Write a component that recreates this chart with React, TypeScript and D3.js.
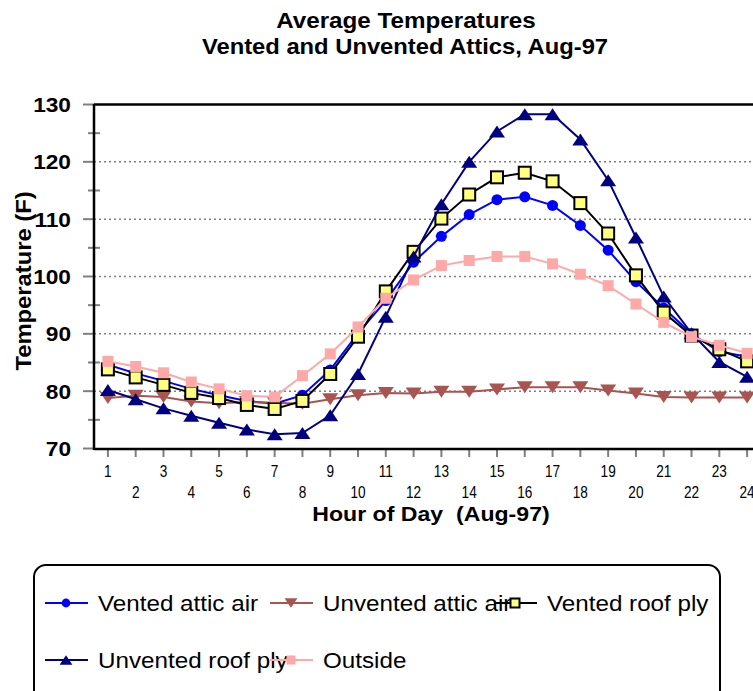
import React, { useEffect, useRef } from "react";
import * as d3 from "d3";

const hours = d3.range(1, 25);

const ventedAtticAir = [84.6, 83.1, 81.8, 80.4, 79.3, 78.3, 77.8, 79.3, 83.7, 90.1, 95.8, 102.5, 107.0, 110.8, 113.4, 113.9, 112.4, 108.9, 104.6, 99.1, 94.5, 90.0, 86.9, 86.0];
const unventedAtticAir = [78.8, 79.2, 79.0, 78.2, 77.9, 78.1, 78.0, 77.8, 78.6, 79.3, 79.7, 79.6, 79.9, 79.9, 80.3, 80.7, 80.7, 80.7, 80.1, 79.6, 79.0, 78.9, 78.9, 78.9];
const ventedRoofPly = [83.8, 82.4, 81.1, 79.7, 78.8, 77.6, 76.9, 78.3, 83.0, 89.5, 97.4, 104.3, 110.1, 114.3, 117.3, 118.1, 116.6, 112.8, 107.5, 100.2, 93.7, 89.7, 87.3, 85.2];
const unventedRoofPly = [80.2, 78.6, 77.0, 75.7, 74.5, 73.3, 72.5, 72.7, 75.8, 83.0, 93.0, 103.5, 112.6, 120.0, 125.3, 128.3, 128.3, 123.9, 116.8, 106.8, 96.5, 90.1, 85.1, 82.5];
const outside = [85.2, 84.3, 83.2, 81.6, 80.4, 79.2, 79.0, 82.7, 86.5, 91.2, 96.2, 99.4, 101.9, 102.8, 103.5, 103.5, 102.2, 100.4, 98.4, 95.2, 92.0, 89.5, 88.0, 86.6];

const yTicks = [70, 80, 90, 100, 110, 120, 130];

const series = [
  { name: "Vented attic air", values: ventedAtticAir, color: "#0000ff", marker: "circle" },
  { name: "Unvented attic air", values: unventedAtticAir, color: "#a85450", marker: "down" },
  { name: "Vented roof ply", values: ventedRoofPly, color: "#000000", marker: "square" },
  { name: "Unvented roof ply", values: unventedRoofPly, color: "#000080", marker: "up" },
  { name: "Outside", values: outside, color: "#ffa8a8", marker: "pink" },
];

const FONT = "'Liberation Sans', Arial, sans-serif";

// the original fonts render a bit wider/narrower than Arial; stretch text to match
function stretch(sel, factor) {
  sel.each(function () {
    const len = this.getComputedTextLength();
    d3.select(this).attr("textLength", len * factor).attr("lengthAdjust", "spacingAndGlyphs");
  });
  return sel;
}

function drawMarker(g, type, color, x, y, small) {
  const k = small ? 0.8 : 1;
  if (type === "circle") {
    g.append("circle").attr("cx", x).attr("cy", y).attr("r", 5.5 * k).attr("fill", color);
  } else if (type === "down") {
    const w = 8 * k, h = 12 * k;
    g.append("path")
      .attr("d", `M${x - w},${y - h / 2}L${x + w},${y - h / 2}L${x},${y + h / 2}Z`)
      .attr("fill", color);
  } else if (type === "up") {
    const w = 8 * k, h = 12 * k;
    g.append("path")
      .attr("d", `M${x - w},${y + h / 2}L${x + w},${y + h / 2}L${x},${y - h / 2}Z`)
      .attr("fill", color);
  } else if (type === "square") {
    const s = small ? 9 : 12;
    g.append("rect").attr("x", x - s / 2).attr("y", y - s / 2).attr("width", s).attr("height", s)
      .attr("fill", "#ffff80").attr("stroke", "#000").attr("stroke-width", 2);
  } else {
    const s = small ? 9 : 11;
    g.append("rect").attr("x", x - s / 2).attr("y", y - s / 2).attr("width", s).attr("height", s)
      .attr("fill", color);
  }
}

const App = () => {
  const svgRef = useRef(null);

  useEffect(() => {
    const width = 753;
    const svg = d3.select(svgRef.current);
    svg.selectAll("*").remove();

    const x = d3.scaleBand().domain(hours).range([94, 761]);
    const cx = (h) => x(h) + x.bandwidth() / 2;
    const y = d3.scaleLinear().domain([70, 130]).range([448.5, 104.5]);

    // titles
    stretch(svg.append("text").attr("x", 406).attr("y", 28).attr("text-anchor", "middle")
      .style("font", `bold 22px ${FONT}`).text("Average Temperatures"), 1.1);
    stretch(svg.append("text").attr("x", 405).attr("y", 54).attr("text-anchor", "middle")
      .style("font", `bold 22px ${FONT}`).text("Vented and Unvented Attics, Aug-97"), 1.08);

    // gridlines
    svg.append("g").selectAll("line").data(yTicks.filter(t => t > 70 && t < 130)).enter()
      .append("line")
      .attr("x1", 94).attr("x2", width).attr("y1", d => y(d)).attr("y2", d => y(d))
      .attr("stroke", "#808080").attr("stroke-width", 1.5).attr("stroke-dasharray", "2,3");

    // y ticks (major and minor)
    const minor = d3.range(75, 130, 10);
    svg.append("g").selectAll("line").data(yTicks).enter().append("line")
      .attr("x1", 83).attr("x2", 94).attr("y1", d => y(d)).attr("y2", d => y(d))
      .attr("stroke", "#808080").attr("stroke-width", 2);
    svg.append("g").selectAll("line").data(minor).enter().append("line")
      .attr("x1", 88).attr("x2", 100).attr("y1", d => y(d)).attr("y2", d => y(d))
      .attr("stroke", "#808080").attr("stroke-width", 2);
    stretch(svg.append("g").selectAll("text").data(yTicks).enter().append("text")
      .attr("x", 71).attr("y", d => y(d) + 7.5).attr("text-anchor", "end")
      .style("font", `bold 21px ${FONT}`).text(d => d), 1.08);

    // x ticks
    svg.append("g").selectAll("line").data(hours).enter().append("line")
      .attr("x1", d => cx(d)).attr("x2", d => cx(d)).attr("y1", 449).attr("y2", 457)
      .attr("stroke", "#808080").attr("stroke-width", 2);
    stretch(svg.append("g").selectAll("text").data(hours).enter().append("text")
      .attr("x", d => cx(d)).attr("y", d => (d % 2 ? 477 : 498)).attr("text-anchor", "middle")
      .style("font", `16px ${FONT}`).text(d => d), 0.85);

    // axes / frame
    svg.append("line").attr("x1", 94).attr("x2", width).attr("y1", 104.5).attr("y2", 104.5)
      .attr("stroke", "#000").attr("stroke-width", 2.5);
    svg.append("line").attr("x1", 94).attr("x2", width).attr("y1", 449).attr("y2", 449)
      .attr("stroke", "#000").attr("stroke-width", 2.5);
    svg.append("line").attr("x1", 94).attr("x2", 94).attr("y1", 104).attr("y2", 450)
      .attr("stroke", "#000").attr("stroke-width", 2.5);

    // axis titles
    stretch(svg.append("text").attr("x", 431).attr("y", 521).attr("text-anchor", "middle")
      .style("font", `bold 21px ${FONT}`).style("white-space", "pre").text("Hour of Day  (Aug-97)"), 1.1);
    stretch(svg.append("text").attr("transform", "translate(31,281) rotate(-90)").attr("text-anchor", "middle")
      .style("font", `bold 22px ${FONT}`).text("Temperature (F)"), 1.08);

    // series
    const line = d3.line().x((d, i) => cx(hours[i])).y(d => y(d));
    series.forEach(s => {
      const g = svg.append("g");
      g.append("path").datum(s.values).attr("d", line).attr("fill", "none")
        .attr("stroke", s.color).attr("stroke-width", 2);
      s.values.forEach((v, i) => drawMarker(g, s.marker, s.color, cx(hours[i]), y(v), false));
    });

    // legend
    svg.append("rect").attr("x", 34).attr("y", 565).attr("width", 686).attr("height", 150)
      .attr("rx", 12).attr("fill", "#fff").attr("stroke", "#000").attr("stroke-width", 2);
    const colX = [45, 270, 494];
    const rowY = [603, 660];
    series.forEach((s, i) => {
      const lx = colX[i % 3];
      const ly = rowY[Math.floor(i / 3)];
      const g = svg.append("g");
      g.append("line").attr("x1", lx).attr("x2", lx + 43).attr("y1", ly).attr("y2", ly)
        .attr("stroke", s.color).attr("stroke-width", 2);
      drawMarker(g, s.marker, s.color, lx + 21, ly, true);
      stretch(g.append("text").attr("x", lx + 53).attr("y", ly + 8)
        .style("font", `22px ${FONT}`).text(s.name), 1.1);
    });
  }, []);

  return (
    <svg ref={svgRef} width={753} height={691} style={{ position: "absolute", left: 0, top: 0 }} />
  );
};

export default App;
